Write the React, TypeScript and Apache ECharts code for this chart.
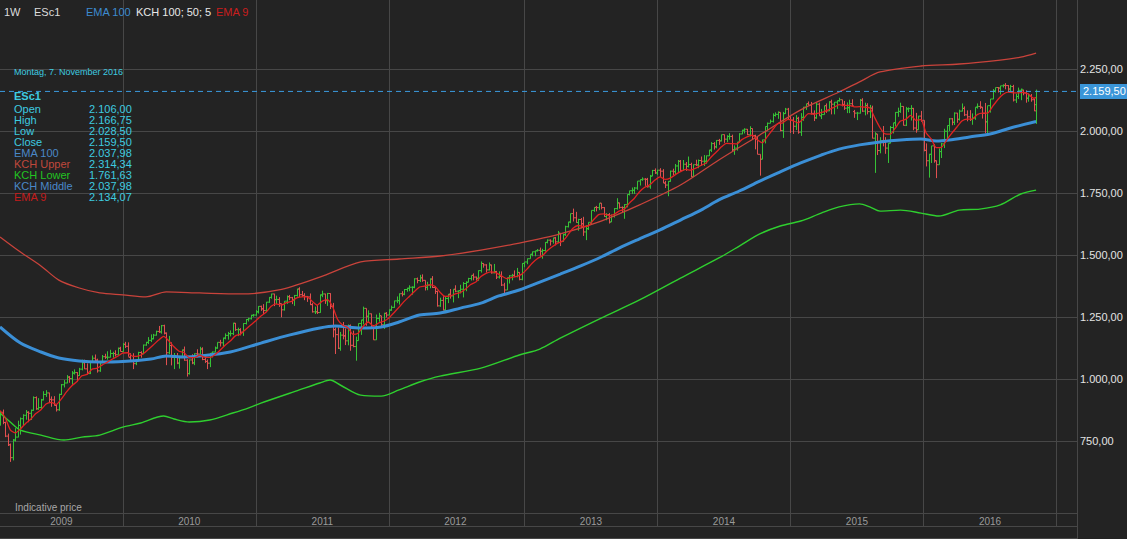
import React, { useEffect, useRef } from 'react';
import * as echarts from 'echarts';

// ---------- data ----------
const START_DATE = Date.UTC(2009, 1, 2); // Monday of first weekly bar
const WEEK_COUNT = 422; // weekly slots on the time axis (to late Feb 2017)

// weekly OHLC bars [open, high, low, close]
const bars2009 = [
  [826, 870, 812, 866], [866, 877, 818, 825], [825, 828, 766, 770], [770, 780, 730, 735], [735, 740, 666, 683],
  [683, 758, 672, 754], [754, 802, 748, 766], [766, 832, 765, 813], [813, 845, 776, 840], [840, 858, 812, 854],
  [854, 875, 836, 866], [866, 870, 826, 862], [862, 877, 835, 874], [874, 930, 872, 925], [925, 930, 876, 880],
  [880, 923, 876, 885], [885, 920, 878, 916], [916, 951, 914, 938], [938, 955, 928, 944], [944, 945, 903, 918],
  [918, 930, 888, 916], [916, 931, 893, 894], [894, 898, 869, 876], [876, 941, 872, 938], [938, 980, 936, 977],
  [977, 996, 966, 984], [984, 1016, 983, 1008], [1008, 1012, 985, 1002], [1002, 1032, 977, 1024], [1024, 1039, 1018, 1026],
  [1026, 1028, 990, 1014], [1014, 1045, 1013, 1040], [1040, 1078, 1035, 1066], [1066, 1078, 1040, 1041], [1041, 1063, 1018, 1022],
  [1022, 1073, 1020, 1069], [1069, 1095, 1067, 1084], [1084, 1099, 1069, 1076], [1076, 1082, 1026, 1033], [1033, 1068, 1029, 1066],
  [1066, 1097, 1066, 1090], [1090, 1102, 1081, 1088], [1088, 1112, 1078, 1088], [1088, 1118, 1087, 1103], [1103, 1110, 1086, 1103],
  [1103, 1116, 1091, 1098], [1098, 1127, 1098, 1124], [1124, 1130, 1111, 1111],
];
const bars2010 = [
  [1111, 1145, 1111, 1140], [1140, 1150, 1125, 1132], [1132, 1148, 1090, 1088], [1088, 1104, 1070, 1071], [1071, 1104, 1040, 1062],
  [1062, 1080, 1056, 1073], [1073, 1110, 1072, 1107], [1107, 1112, 1086, 1102], [1102, 1139, 1100, 1137], [1137, 1150, 1134, 1148],
  [1148, 1169, 1141, 1156], [1156, 1180, 1149, 1162], [1162, 1182, 1160, 1177], [1177, 1195, 1175, 1192], [1192, 1214, 1186, 1190],
  [1190, 1218, 1183, 1215], [1215, 1219, 1180, 1185], [1185, 1188, 1056, 1106], [1106, 1174, 1100, 1135], [1135, 1148, 1055, 1087],
  [1087, 1105, 1040, 1089], [1089, 1105, 1060, 1064], [1064, 1093, 1042, 1091], [1091, 1119, 1085, 1117], [1117, 1131, 1074, 1076],
  [1076, 1080, 1010, 1022], [1022, 1078, 1018, 1077], [1077, 1100, 1060, 1065], [1065, 1103, 1056, 1102], [1102, 1120, 1088, 1101],
  [1101, 1130, 1100, 1121], [1121, 1128, 1076, 1079], [1079, 1100, 1065, 1071], [1071, 1079, 1040, 1064], [1064, 1105, 1048, 1104],
  [1104, 1111, 1087, 1109], [1109, 1131, 1108, 1125], [1125, 1148, 1122, 1148], [1148, 1158, 1131, 1146], [1146, 1167, 1132, 1165],
  [1165, 1184, 1160, 1176], [1176, 1190, 1159, 1183], [1183, 1196, 1172, 1183], [1183, 1227, 1177, 1225], [1225, 1226, 1194, 1199],
  [1199, 1207, 1173, 1199], [1199, 1205, 1176, 1189], [1189, 1225, 1174, 1224], [1224, 1242, 1220, 1240], [1240, 1247, 1232, 1243],
  [1243, 1259, 1240, 1257], [1257, 1262, 1251, 1258],
];
const bars2011 = [
  [1258, 1278, 1255, 1271], [1271, 1294, 1264, 1293], [1293, 1296, 1275, 1283], [1283, 1302, 1262, 1276], [1276, 1311, 1270, 1310],
  [1310, 1331, 1307, 1329], [1329, 1344, 1324, 1343], [1343, 1344, 1294, 1320], [1320, 1336, 1302, 1321], [1321, 1330, 1291, 1304],
  [1304, 1304, 1249, 1279], [1279, 1314, 1276, 1314], [1314, 1337, 1303, 1332], [1332, 1339, 1318, 1328], [1328, 1331, 1302, 1319],
  [1319, 1339, 1295, 1337], [1337, 1364, 1332, 1363], [1363, 1370, 1330, 1340], [1340, 1355, 1331, 1337], [1337, 1346, 1318, 1333],
  [1333, 1335, 1311, 1331], [1331, 1345, 1298, 1300], [1300, 1306, 1268, 1271], [1271, 1292, 1262, 1271], [1271, 1298, 1262, 1268],
  [1268, 1341, 1267, 1339], [1339, 1356, 1330, 1343], [1343, 1344, 1303, 1316], [1316, 1347, 1295, 1345], [1345, 1346, 1282, 1292],
  [1292, 1307, 1168, 1199], [1199, 1208, 1101, 1179], [1179, 1208, 1121, 1124], [1124, 1190, 1114, 1177], [1177, 1230, 1160, 1174],
  [1174, 1204, 1137, 1154], [1154, 1220, 1136, 1216], [1216, 1220, 1114, 1136], [1136, 1195, 1128, 1131], [1131, 1171, 1074, 1155],
  [1155, 1224, 1155, 1224], [1224, 1239, 1178, 1238], [1238, 1292, 1220, 1285], [1285, 1285, 1215, 1253], [1253, 1277, 1226, 1263],
  [1263, 1264, 1209, 1215], [1215, 1218, 1158, 1158], [1158, 1260, 1158, 1244], [1244, 1267, 1231, 1255], [1255, 1255, 1209, 1219],
  [1219, 1267, 1202, 1265], [1265, 1270, 1248, 1258],
];
const bars2012 = [
  [1258, 1281, 1258, 1278], [1278, 1296, 1275, 1289], [1289, 1316, 1287, 1315], [1315, 1333, 1306, 1316], [1316, 1345, 1300, 1344],
  [1344, 1354, 1333, 1342], [1342, 1363, 1338, 1361], [1361, 1368, 1352, 1366], [1366, 1378, 1354, 1370], [1370, 1374, 1340, 1370],
  [1370, 1406, 1366, 1404], [1404, 1409, 1386, 1397], [1397, 1420, 1391, 1408], [1408, 1422, 1392, 1398], [1398, 1398, 1357, 1370],
  [1370, 1392, 1358, 1378], [1378, 1406, 1366, 1403], [1403, 1415, 1367, 1369], [1369, 1373, 1343, 1353], [1353, 1356, 1292, 1295],
  [1295, 1328, 1291, 1317], [1317, 1334, 1277, 1278], [1278, 1335, 1266, 1325], [1325, 1343, 1306, 1342], [1342, 1363, 1324, 1335],
  [1335, 1362, 1309, 1362], [1362, 1378, 1350, 1354], [1354, 1357, 1326, 1356], [1356, 1380, 1345, 1362], [1362, 1391, 1329, 1385],
  [1385, 1394, 1354, 1390], [1390, 1408, 1390, 1405], [1405, 1418, 1397, 1418], [1418, 1426, 1398, 1411], [1411, 1413, 1397, 1406],
  [1406, 1438, 1396, 1437], [1437, 1474, 1429, 1466], [1466, 1467, 1449, 1460], [1460, 1463, 1429, 1440], [1440, 1470, 1438, 1460],
  [1460, 1461, 1425, 1428], [1428, 1464, 1426, 1433], [1433, 1436, 1403, 1411], [1411, 1434, 1405, 1414], [1414, 1434, 1375, 1379],
  [1379, 1388, 1343, 1359], [1359, 1409, 1359, 1409], [1409, 1419, 1385, 1416], [1416, 1424, 1398, 1418], [1418, 1438, 1411, 1413],
  [1413, 1448, 1410, 1430], [1430, 1431, 1398, 1402], [1402, 1467, 1398, 1466],
];
const bars2013 = [
  [1466, 1472, 1451, 1472], [1472, 1486, 1463, 1485], [1485, 1503, 1485, 1503], [1503, 1514, 1495, 1513], [1513, 1517, 1495, 1517],
  [1517, 1524, 1514, 1519], [1519, 1530, 1497, 1515], [1515, 1525, 1485, 1518], [1518, 1552, 1514, 1551], [1551, 1563, 1547, 1560],
  [1560, 1563, 1538, 1556], [1556, 1570, 1546, 1569], [1569, 1573, 1539, 1553], [1553, 1597, 1548, 1588], [1588, 1588, 1536, 1555],
  [1555, 1585, 1553, 1582], [1582, 1618, 1577, 1614], [1614, 1634, 1611, 1633], [1633, 1667, 1628, 1667], [1667, 1687, 1635, 1650],
  [1650, 1674, 1630, 1631], [1631, 1646, 1598, 1643], [1643, 1649, 1608, 1626], [1626, 1654, 1577, 1593], [1593, 1620, 1560, 1606],
  [1606, 1632, 1601, 1632], [1632, 1680, 1625, 1680], [1680, 1693, 1674, 1692], [1692, 1698, 1676, 1691], [1691, 1709, 1681, 1709],
  [1709, 1709, 1684, 1691], [1691, 1693, 1654, 1655], [1655, 1669, 1640, 1663], [1663, 1669, 1627, 1633], [1633, 1664, 1633, 1655],
  [1655, 1689, 1651, 1687], [1687, 1729, 1683, 1710], [1710, 1711, 1687, 1692], [1692, 1696, 1670, 1691], [1691, 1705, 1646, 1703],
  [1703, 1745, 1692, 1744], [1744, 1759, 1740, 1759], [1759, 1772, 1746, 1761], [1761, 1774, 1746, 1770], [1770, 1798, 1763, 1798],
  [1798, 1805, 1780, 1804], [1804, 1813, 1799, 1806], [1806, 1810, 1779, 1805], [1805, 1811, 1772, 1775], [1775, 1823, 1767, 1818],
  [1818, 1843, 1818, 1841], [1841, 1849, 1827, 1831],
];
const bars2014 = [
  [1831, 1843, 1823, 1842], [1842, 1850, 1815, 1838], [1838, 1846, 1790, 1790], [1790, 1799, 1770, 1782], [1782, 1798, 1737, 1797],
  [1797, 1840, 1795, 1838], [1838, 1848, 1821, 1836], [1836, 1867, 1825, 1859], [1859, 1883, 1834, 1878], [1878, 1883, 1839, 1841],
  [1841, 1883, 1839, 1866], [1866, 1875, 1839, 1857], [1857, 1897, 1853, 1865], [1865, 1872, 1814, 1815], [1815, 1865, 1815, 1864],
  [1864, 1884, 1859, 1863], [1863, 1885, 1850, 1881], [1881, 1897, 1860, 1878], [1878, 1903, 1859, 1878], [1878, 1901, 1868, 1900],
  [1900, 1924, 1899, 1923], [1923, 1955, 1915, 1949], [1949, 1955, 1925, 1936], [1936, 1963, 1930, 1962], [1962, 1968, 1944, 1960],
  [1960, 1985, 1958, 1985], [1985, 1986, 1952, 1967], [1967, 1983, 1955, 1978], [1978, 1991, 1965, 1978], [1978, 1985, 1916, 1925],
  [1925, 1942, 1904, 1931], [1931, 1956, 1921, 1955], [1955, 1991, 1954, 1988], [1988, 2005, 1987, 2003], [2003, 2011, 1990, 2007],
  [2007, 2008, 1983, 1985], [1985, 2019, 1978, 2010], [2010, 2010, 1965, 1982], [1982, 1985, 1926, 1967], [1967, 1977, 1906, 1906],
  [1906, 1906, 1820, 1886], [1886, 1965, 1886, 1964], [1964, 2018, 1950, 2018], [2018, 2034, 2001, 2031], [2031, 2046, 2031, 2039],
  [2039, 2071, 2034, 2063], [2063, 2075, 2058, 2067], [2067, 2079, 2049, 2075], [2075, 2075, 1999, 2002], [2002, 2077, 1972, 2070],
  [2070, 2093, 2069, 2088], [2088, 2093, 2046, 2058],
];
const bars2015 = [
  [2058, 2064, 1992, 2044], [2044, 2056, 1988, 2019], [2019, 2064, 2004, 2051], [2051, 2057, 1989, 1995], [1995, 2072, 1980, 2055],
  [2055, 2097, 2041, 2096], [2096, 2110, 2085, 2110], [2110, 2119, 2103, 2104], [2104, 2117, 2066, 2071], [2071, 2083, 2040, 2053],
  [2053, 2114, 2049, 2108], [2108, 2114, 2061, 2061], [2061, 2089, 2048, 2066], [2066, 2102, 2066, 2102], [2102, 2111, 2073, 2081],
  [2081, 2120, 2080, 2117], [2117, 2126, 2067, 2108], [2108, 2117, 2067, 2116], [2116, 2123, 2089, 2122], [2122, 2134, 2118, 2126],
  [2126, 2126, 2099, 2107], [2107, 2121, 2085, 2092], [2092, 2115, 2072, 2094], [2094, 2126, 2072, 2110], [2110, 2128, 2098, 2101],
  [2078, 2085, 2053, 2072], [2072, 2077, 2044, 2072], [2072, 2129, 2070, 2124], [2124, 2132, 2077, 2080], [2080, 2114, 2063, 2103],
  [2103, 2112, 2067, 2078], [2078, 2105, 2052, 2092], [2092, 2102, 1970, 1971], [1971, 1995, 1831, 1988], [1988, 1988, 1903, 1921],
  [1921, 1975, 1910, 1961], [1961, 2020, 1938, 1958], [1958, 1975, 1908, 1931], [1931, 1951, 1871, 1951], [1951, 2020, 1950, 2014],
  [2014, 2033, 1990, 2033], [2033, 2076, 2018, 2075], [2075, 2094, 2057, 2079], [2079, 2114, 2073, 2099], [2099, 2100, 2022, 2023],
  [2023, 2097, 2020, 2089], [2089, 2095, 2076, 2090], [2090, 2104, 2042, 2091], [2091, 2093, 2003, 2012], [2012, 2073, 1993, 2005],
  [2005, 2061, 2005, 2060], [2060, 2081, 2037, 2043],
];
const bars2016 = [
  [2043, 2043, 1918, 1922], [1922, 1950, 1857, 1880], [1880, 1908, 1812, 1906], [1906, 1940, 1871, 1940], [1940, 1947, 1872, 1880],
  [1880, 1881, 1810, 1864], [1864, 1930, 1864, 1917], [1917, 1952, 1891, 1948], [1948, 2009, 1931, 1999], [1999, 2022, 1969, 2022],
  [2022, 2052, 2000, 2049], [2049, 2052, 2023, 2035], [2035, 2075, 2024, 2072], [2072, 2073, 2033, 2047], [2047, 2086, 2042, 2080],
  [2080, 2111, 2079, 2091], [2091, 2099, 2060, 2065], [2065, 2083, 2039, 2057], [2057, 2084, 2040, 2046], [2046, 2071, 2025, 2052],
  [2052, 2096, 2045, 2096], [2096, 2111, 2090, 2099], [2099, 2120, 2089, 2096], [2096, 2097, 2050, 2071], [2071, 2113, 1991, 2037],
  [2037, 2102, 1991, 2102], [2102, 2129, 2074, 2129], [2129, 2169, 2128, 2161], [2161, 2175, 2155, 2175], [2175, 2177, 2155, 2173],
  [2173, 2182, 2147, 2182], [2182, 2188, 2175, 2184], [2184, 2193, 2168, 2183], [2183, 2185, 2159, 2169], [2169, 2186, 2160, 2179],
  [2179, 2186, 2119, 2125], [2125, 2150, 2113, 2139], [2139, 2175, 2129, 2164], [2164, 2171, 2124, 2168], [2162, 2167, 2144, 2153],
  [2153, 2164, 2114, 2132], [2132, 2151, 2118, 2141], [2141, 2149, 2118, 2126], [2126, 2130, 2080, 2081], [2106, 2166.75, 2028.5, 2159.5],
];

// indicator lines: [week index, value]
const ema100Pts = [
  [0, 1210], [8, 1145], [16, 1109], [23, 1085], [31, 1073], [39, 1069], [48, 1071], [59, 1081], [65, 1093], [72, 1089],
  [78, 1093], [90, 1109], [102, 1145], [113, 1177], [125, 1206], [131, 1214], [141, 1206], [149, 1210], [156, 1230], [164, 1258],
  [172, 1266], [180, 1286], [188, 1306], [195, 1335], [203, 1359], [211, 1391], [219, 1423], [227, 1456], [235, 1492], [242, 1528],
  [250, 1565], [258, 1601], [266, 1641], [274, 1681], [281, 1722], [289, 1758], [297, 1798], [305, 1835], [313, 1871], [321, 1903],
  [328, 1927], [336, 1944], [344, 1956], [352, 1964], [360, 1968], [366, 1960], [371, 1964], [379, 1976], [387, 1988], [395, 2012],
  [405, 2037.98],
];
const kchUpperPts = [
  [0, 1573], [8, 1512], [16, 1456], [23, 1399], [31, 1367], [39, 1347], [48, 1339], [57, 1331], [65, 1351], [78, 1347],
  [94, 1343], [109, 1359], [125, 1411], [141, 1472], [156, 1484], [172, 1496], [188, 1520], [203, 1548], [219, 1585], [235, 1637],
  [250, 1702], [266, 1782], [281, 1883], [297, 1984], [313, 2085], [328, 2157], [336, 2198], [344, 2238], [360, 2262], [375, 2270],
  [391, 2286], [399, 2298], [405, 2314.34],
];
const kchLowerPts = [
  [0, 863], [4, 827], [8, 794], [16, 774], [25, 754], [32, 766], [39, 774], [48, 806], [55, 823], [64, 851],
  [68, 839], [74, 827], [82, 835], [91, 863], [97, 883], [102, 903], [117, 956], [125, 984], [129, 996], [133, 976],
  [141, 935], [149, 931], [156, 956], [164, 988], [172, 1012], [188, 1044], [203, 1097], [211, 1121], [219, 1165], [235, 1246],
  [250, 1319], [266, 1407], [281, 1488], [289, 1536], [297, 1585], [305, 1617], [313, 1637], [321, 1669], [328, 1694], [336, 1706],
  [340, 1694], [344, 1677], [352, 1681], [360, 1669], [367, 1657], [375, 1681], [383, 1685], [391, 1702], [399, 1746], [405, 1761.63],
];
const ema9Pts = [
  [0, 873], [2, 845], [4, 795], [6, 783], [8, 799], [10, 821], [12, 838], [14, 861], [16, 876], [18, 899],
  [20, 906], [22, 898], [24, 920], [26, 948], [28, 972], [30, 989], [32, 1013], [34, 1019], [36, 1040], [38, 1044],
  [40, 1057], [42, 1068], [44, 1081], [46, 1092], [48, 1105], [50, 1106], [52, 1091], [54, 1092], [56, 1102], [58, 1120],
  [60, 1138], [62, 1157], [64, 1172], [66, 1154], [68, 1130], [70, 1112], [72, 1106], [74, 1086], [76, 1086], [78, 1096],
  [80, 1088], [82, 1087], [84, 1098], [86, 1116], [88, 1136], [90, 1153], [92, 1174], [94, 1181], [96, 1200], [98, 1218],
  [100, 1235], [102, 1254], [104, 1269], [106, 1293], [108, 1303], [110, 1298], [112, 1308], [114, 1313], [116, 1327], [118, 1331],
  [120, 1331], [122, 1314], [124, 1298], [126, 1314], [128, 1320], [130, 1292], [132, 1240], [134, 1217], [136, 1207], [138, 1180],
  [140, 1185], [142, 1213], [144, 1230], [146, 1213], [148, 1226], [150, 1233], [152, 1246], [154, 1267], [156, 1290], [158, 1313],
  [160, 1333], [162, 1353], [164, 1371], [166, 1375], [168, 1381], [170, 1374], [172, 1350], [174, 1333], [176, 1335], [178, 1343],
  [180, 1349], [182, 1363], [184, 1381], [186, 1391], [188, 1413], [190, 1426], [192, 1432], [194, 1428], [196, 1416], [198, 1405],
  [200, 1410], [202, 1414], [204, 1423], [206, 1443], [208, 1467], [210, 1485], [212, 1497], [214, 1518], [216, 1534], [218, 1548],
  [220, 1556], [222, 1581], [224, 1608], [226, 1619], [228, 1615], [230, 1617], [232, 1642], [234, 1663], [236, 1666], [238, 1659],
  [240, 1664], [242, 1677], [244, 1684], [246, 1709], [248, 1729], [250, 1755], [252, 1773], [254, 1783], [256, 1802], [258, 1815],
  [260, 1805], [262, 1810], [264, 1824], [266, 1836], [268, 1845], [270, 1842], [272, 1850], [274, 1861], [276, 1871], [278, 1895],
  [280, 1915], [282, 1936], [284, 1950], [286, 1949], [288, 1948], [290, 1965], [292, 1976], [294, 1983], [296, 1965], [298, 1952],
  [300, 1978], [302, 2005], [304, 2029], [306, 2033], [308, 2047], [310, 2041], [312, 2033], [314, 2049], [316, 2070], [318, 2067],
  [320, 2072], [322, 2077], [324, 2086], [326, 2095], [328, 2106], [330, 2103], [332, 2103], [334, 2097], [336, 2098], [338, 2096],
  [340, 2093], [342, 2052], [344, 2013], [346, 1988], [348, 1987], [350, 2012], [352, 2040], [354, 2047], [356, 2063], [358, 2043],
  [360, 2046], [362, 1993], [364, 1968], [366, 1933], [368, 1934], [370, 1962], [372, 1990], [374, 2015], [376, 2040], [378, 2048],
  [380, 2048], [382, 2066], [384, 2072], [386, 2072], [388, 2099], [390, 2126], [392, 2147], [394, 2157], [396, 2154], [398, 2154],
  [400, 2156], [402, 2149], [404, 2132], [405, 2134.07],
];

const yTicks = [750, 1000, 1250, 1500, 1750, 2000, 2250];
const Y_MIN = 460;
const Y_MAX = 2528;
const lastClose = 2159.5;

const headerItems = [
  { text: '1W', x: 4, color: '#dcdcdc' },
  { text: 'ESc1', x: 34, color: '#dcdcdc' },
  { text: 'EMA 100', x: 86, color: '#3d8bd0' },
  { text: 'KCH 100; 50; 5', x: 136, color: '#e8e8e8' },
  { text: 'EMA 9', x: 216, color: '#c81e1e' },
];
const panelDate = 'Montag, 7. November 2016';
const panelTitle = 'ESc1';
const panelLabels = ['Open', 'High', 'Low', 'Close', 'EMA 100', 'KCH Upper', 'KCH Lower', 'KCH Middle', 'EMA 9'];
const panelValues = ['2.106,00', '2.166,75', '2.028,50', '2.159,50', '2.037,98', '2.314,34', '1.761,63', '2.037,98', '2.134,07'];
const panelLabelColors = ['#3ecbe0', '#3ecbe0', '#3ecbe0', '#3ecbe0', '#4a88c8', '#c0483c', '#22c422', '#4a88c8', '#c41c1c'];
const footNote = 'Indicative price';

// ---------- styling ----------
const BG = '#232323';
const GRID = '#474747';
const UP = '#36c236';
const DOWN = '#e05050';
const PRICE_BLUE = '#3b9be0';
const FONT = '"Liberation Sans", Arial, sans-serif';

const deFmt = (v: number) => {
  const s = v.toFixed(2);
  const [i, d] = s.split('.');
  return i.replace(/\B(?=(\d{3})+(?!\d))/g, '.') + ',' + d;
};

const weekDate = (i: number) => new Date(START_DATE + i * 7 * 86400000);
const fmtDate = (d: Date) => d.toISOString().slice(0, 10);

export default function App() {
  const ref = useRef<HTMLDivElement>(null);

  useEffect(() => {
    document.body.style.margin = '0';
    document.body.style.background = BG;
    const chart = echarts.init(ref.current!, undefined, { renderer: 'svg' });

    const categories: string[] = [];
    for (let i = 0; i < WEEK_COUNT; i++) categories.push(fmtDate(weekDate(i)));

    // year boundaries & centred year labels
    const yearStart = new Set<number>();
    const segs: { year: number; s: number }[] = [];
    for (let i = 0; i < WEEK_COUNT; i++) {
      const y = +categories[i].slice(0, 4);
      if (i === 0 || y !== +categories[i - 1].slice(0, 4)) {
        if (i > 0) yearStart.add(i);
        segs.push({ year: y, s: i });
      }
    }
    const labelIdx = new Set<number>();
    segs.forEach((sg, k) => {
      const e = k + 1 < segs.length ? segs[k + 1].s : WEEK_COUNT;
      if (sg.year <= 2016) labelIdx.add(Math.floor((sg.s + e) / 2));
    });

    const bars = [...bars2009, ...bars2010, ...bars2011, ...bars2012, ...bars2013, ...bars2014, ...bars2015, ...bars2016];
    const barData = bars.map((b, i) => [i, b[0], b[1], b[2], b[3]]);
    const toLine = (pts: number[][]) => pts.map((p) => [categories[p[0]], p[1]]);

    const lineSeries = (name: string, pts: number[][], color: string, width: number, extra: any = {}) => ({
      name,
      type: 'line',
      data: toLine(pts),
      showSymbol: false,
      symbol: 'none',
      smooth: 0.3,
      silent: true,
      lineStyle: { color, width },
      z: 3,
      ...extra,
    });

    const graphics: any[] = [];
    headerItems.forEach((h) =>
      graphics.push({
        type: 'text', x: h.x, y: 12, z: 100,
        style: { text: h.text, fill: h.color, font: `11px ${FONT}`, verticalAlign: 'middle', textVerticalAlign: 'middle' },
      })
    );
    graphics.push({
      type: 'text', x: 14, y: 72, z: 100,
      style: { text: panelDate, fill: '#3ecbe0', font: `9px ${FONT}`, verticalAlign: 'middle', textVerticalAlign: 'middle' },
    });
    graphics.push({
      type: 'text', x: 14, y: 96, z: 100,
      style: { text: panelTitle, fill: '#3ecbe0', font: `bold 11px ${FONT}`, verticalAlign: 'middle', textVerticalAlign: 'middle' },
    });
    panelLabels.forEach((lab, k) => {
      const y = 109 + k * 11;
      graphics.push({
        type: 'text', x: 14, y, z: 100,
        style: { text: lab, fill: panelLabelColors[k], font: `11px ${FONT}`, verticalAlign: 'middle', textVerticalAlign: 'middle' },
      });
      graphics.push({
        type: 'text', x: 89, y, z: 100,
        style: { text: panelValues[k], fill: '#3ecbe0', font: `11px ${FONT}`, verticalAlign: 'middle', textVerticalAlign: 'middle' },
      });
    });
    graphics.push({
      type: 'text', x: 15, y: 507, z: 100,
      style: { text: footNote, fill: '#a8a8a8', font: `10px ${FONT}`, verticalAlign: 'middle', textVerticalAlign: 'middle' },
    });
    graphics.push({ type: 'line', z: 50, shape: { x1: 0, y1: 526.5, x2: 1077.5, y2: 526.5 }, style: { stroke: GRID, lineWidth: 1 } });
    graphics.push({ type: 'line', z: 50, shape: { x1: 0, y1: 538.5, x2: 1077.5, y2: 538.5 }, style: { stroke: GRID, lineWidth: 1 } });
    graphics.push({ type: 'line', z: 50, shape: { x1: 1077.5, y1: 510, x2: 1077.5, y2: 539 }, style: { stroke: GRID, lineWidth: 1 } });

    chart.setOption({
      animation: false,
      backgroundColor: BG,
      textStyle: { fontFamily: FONT },
      grid: { left: 0, right: 50, top: 0, bottom: 26, containLabel: false },
      xAxis: {
        type: 'category',
        data: categories,
        boundaryGap: false,
        axisLine: { show: true, lineStyle: { color: GRID } },
        axisTick: {
          show: true, length: 13, inside: false,
          interval: (i: number) => yearStart.has(i),
          lineStyle: { color: GRID },
        },
        axisLabel: {
          interval: (i: number) => labelIdx.has(i),
          formatter: (v: string) => v.slice(0, 4),
          color: '#9a9a9a', fontSize: 10, margin: 3,
          showMinLabel: true, showMaxLabel: true,
        },
        splitLine: { show: true, interval: (i: number) => yearStart.has(i), lineStyle: { color: GRID } },
      },
      yAxis: {
        type: 'value',
        position: 'right',
        min: Y_MIN,
        max: Y_MAX,
        axisLine: { show: true, lineStyle: { color: GRID } },
        axisTick: { show: false, customValues: yTicks },
        axisLabel: { customValues: yTicks, formatter: (v: number) => deFmt(v), color: '#e4e4e4', fontSize: 11, margin: 3 },
        splitLine: { show: true, lineStyle: { color: GRID } },
      },
      series: [
        {
          type: 'custom',
          name: 'ESc1',
          data: barData,
          encode: { x: 0, y: [1, 2, 3, 4] },
          silent: true,
          z: 2,
          renderItem: (params: any, api: any) => {
            const idx = api.value(0);
            const o = api.value(1), h = api.value(2), l = api.value(3), c = api.value(4);
            const pH = api.coord([idx, h]);
            const pL = api.coord([idx, l]);
            const pO = api.coord([idx, o]);
            const pC = api.coord([idx, c]);
            const color = c >= o ? UP : DOWN;
            const x = Math.round(pH[0]) + 0.5;
            return {
              type: 'group',
              children: [
                { type: 'line', shape: { x1: x, y1: pH[1], x2: x, y2: pL[1] }, style: { stroke: color, lineWidth: 1 } },
                { type: 'line', shape: { x1: x - 1.5, y1: pO[1], x2: x, y2: pO[1] }, style: { stroke: color, lineWidth: 1 } },
                { type: 'line', shape: { x1: x, y1: pC[1], x2: x + 1.5, y2: pC[1] }, style: { stroke: color, lineWidth: 1 } },
              ],
            };
          },
        },
        // last-price guide line across the plot, with its value tag on the axis
        {
          name: 'Last',
          type: 'line',
          data: [[categories[0], lastClose], [categories[WEEK_COUNT - 1], lastClose]],
          showSymbol: false,
          symbol: 'none',
          silent: true,
          z: 5,
          lineStyle: { color: PRICE_BLUE, width: 1, type: [5, 4] },
          endLabel: {
            show: true,
            formatter: () => deFmt(lastClose),
            distance: 3,
            backgroundColor: '#3a95d8',
            color: '#ffffff',
            fontSize: 11,
            padding: [2, 3, 2, 3],
          },
        },
        lineSeries('KCH Upper', kchUpperPts, '#c9433b', 1.3),
        lineSeries('KCH Lower', kchLowerPts, '#2fcf2f', 1.4),
        lineSeries('EMA 100', ema100Pts, '#3b8fd6', 3),
        lineSeries('EMA 9', ema9Pts, '#e02222', 1.3, { smooth: 0.2, z: 4 }),
      ],
      graphic: graphics,
    });

    return () => chart.dispose();
  }, []);

  return <div ref={ref} style={{ position: 'fixed', left: 0, top: 0, width: 1127, height: 539, background: BG }} />;
}
